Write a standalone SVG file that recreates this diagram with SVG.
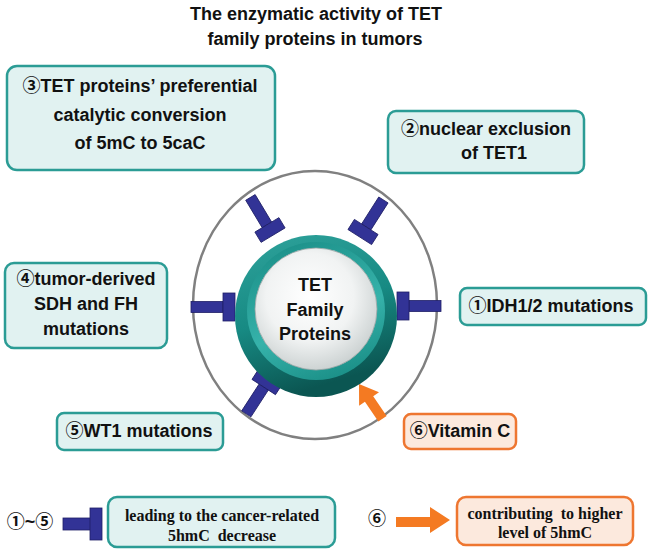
<svg xmlns="http://www.w3.org/2000/svg" width="648" height="552" viewBox="0 0 648 552">
<style>
.t{font-family:"Liberation Sans","Noto Sans CJK SC",sans-serif;font-weight:bold;font-size:18px;fill:#111;text-anchor:middle}
.s{font-family:"Liberation Serif","Noto Sans CJK SC",serif;font-weight:bold;font-size:16px;fill:#111;text-anchor:middle;white-space:pre}
.tb{fill:#E1F2F1;stroke:#2B9C95;stroke-width:2.5}
.ob{fill:#FCE9DD;stroke:#EE7630;stroke-width:2.5}
.bl{fill:#323396;stroke:#1E1F66;stroke-width:0.8}
.or{fill:#F47A22}
</style>
<defs>
<linearGradient id="ringG" x1="0" y1="0" x2="0.3" y2="1">
<stop offset="0" stop-color="#2FA39C"/>
<stop offset="0.55" stop-color="#178A83"/>
<stop offset="1" stop-color="#0B5652"/>
</linearGradient>
<linearGradient id="bevG" x1="0.2" y1="0" x2="0.6" y2="1">
<stop offset="0" stop-color="#1B8F88"/>
<stop offset="0.6" stop-color="#36B2AA"/>
<stop offset="1" stop-color="#1C9189"/>
</linearGradient>
<radialGradient id="discG" cx="0.45" cy="0.4" r="0.6">
<stop offset="0" stop-color="#FFFFFF"/>
<stop offset="0.6" stop-color="#F1F3F3"/>
<stop offset="1" stop-color="#CDD3D3"/>
</radialGradient>
<g id="blk"><rect class="bl" x="6" y="-5.5" width="32" height="11"/><rect class="bl" x="-6" y="-14" width="12" height="28"/></g>
</defs>
<rect width="648" height="552" fill="#fff"/>
<g id="title">
<text class="t" x="316" y="20" font-size="18.5">The enzymatic activity of TET</text>
<text class="t" x="315" y="45" font-size="18.5">family proteins in tumors</text>
</g>
<g id="connectors">
<ellipse cx="315" cy="305" rx="122" ry="134" fill="none" stroke="#808080" stroke-width="2.5"/>
<use href="#blk" transform="translate(403,306)"/>
<use href="#blk" transform="translate(229,307) rotate(180)"/>
<use href="#blk" transform="translate(270,230) rotate(-121)"/>
<use href="#blk" transform="translate(363,232) rotate(-57.5)"/>
<use href="#blk" transform="translate(267,382) rotate(123)"/>
<polygon class="or" transform="translate(359,384) rotate(-124)" points="0,0 -18,-12 -18,-5 -42,-5 -42,5 -18,5 -18,12"/>
</g>
<g id="tet">
<circle cx="316" cy="316" r="81" fill="url(#ringG)"/>
<circle cx="316" cy="311" r="69" fill="url(#bevG)"/>
<circle cx="316" cy="309" r="61" fill="url(#discG)" stroke="#9AA6A6" stroke-width="0.8"/>
<text class="t" x="315" y="291">TET</text>
<text class="t" x="315" y="316">Family</text>
<text class="t" x="315" y="340">Proteins</text>
</g>
<g id="n1">
<rect class="tb" x="460" y="288" width="186" height="37" rx="7"/>
<text class="t" x="551" y="312">①IDH1/2 mutations</text>
</g>
<g id="n2">
<rect class="tb" x="388" y="111" width="196" height="62" rx="8"/>
<text class="t" x="486" y="135">②nuclear exclusion</text>
<text class="t" x="494" y="159">of TET1</text>
</g>
<g id="n3">
<rect class="tb" x="7" y="66" width="268" height="104" rx="10"/>
<text class="t" x="140" y="92">③TET proteins’ preferential</text>
<text class="t" x="140" y="121">catalytic conversion</text>
<text class="t" x="140" y="149">of 5mC to 5caC</text>
</g>
<g id="n4">
<rect class="tb" x="5" y="263" width="162" height="85" rx="9"/>
<text class="t" x="86" y="285">④tumor-derived</text>
<text class="t" x="86" y="310">SDH and FH</text>
<text class="t" x="86" y="335">mutations</text>
</g>
<g id="n5">
<rect class="tb" x="57" y="413" width="166" height="37" rx="7"/>
<text class="t" x="139" y="437">⑤WT1 mutations</text>
</g>
<g id="n6">
<rect class="ob" x="404" y="414" width="112" height="35" rx="7"/>
<text class="t" x="460" y="437">⑥Vitamin C</text>
</g>
<g id="legend1">
<text class="t" x="30" y="528" font-size="17" font-weight="normal">①~⑤</text>
<rect class="bl" x="63" y="518" width="28" height="12"/>
<rect class="bl" x="90" y="508" width="12" height="32"/>
<rect class="tb" x="108" y="497" width="227" height="50" rx="9"/>
<text class="s" x="222" y="521">leading to the cancer-related</text>
<text class="s" x="222" y="541">5hmC  decrease</text>
</g>
<g id="legend2">
<text class="t" x="377" y="525" font-size="17" font-weight="normal">⑥</text>
<polygon class="or" points="396,517 430,517 430,507 450,520 430,533 430,527 396,527"/>
<rect class="ob" x="457" y="497" width="176" height="48" rx="9"/>
<text class="s" x="545" y="519">contributing  to higher</text>
<text class="s" x="545" y="538">level of 5hmC</text>
</g>
</svg>
